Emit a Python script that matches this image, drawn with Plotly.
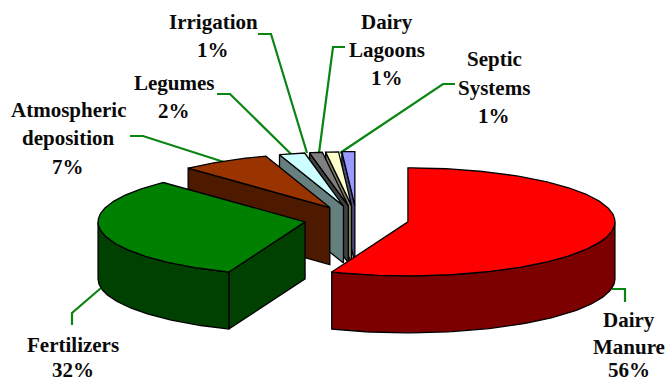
import numpy as np
import plotly.graph_objects as go

# Nitrogen source shares, clockwise from twelve o'clock
categories = ["Dairy Manure", "Fertilizers", "Atmospheric deposition", "Legumes",
              "Irrigation", "Dairy Lagoons", "Septic Systems"]
shares = [56, 32, 7, 2, 1, 1, 1]
top_colors = ["#ff0000", "#008000", "#993300", "#ccffff", "#808080", "#ffffcc", "#9999ff"]
side_colors = ["#7d0000", "#004000", "#4d1a00", "#668080", "#404040", "#808066", "#4d4d80"]

# Projection of the tilted, exploded pie in page pixels
CX, CY = 356.5, 219.3
RX, RY = 207.0, 54.0
DEPTH = 57.0
EXPLODE = 0.253

EDGE = dict(color="#000000", width=1.3)
LEADER = dict(color="#0a8512", width=2.2)

leader_paths = [
    [(258, 34), (271, 34), (307, 153)],
    [(345, 47), (333, 47), (319, 153)],
    [(455, 84), (443, 84), (340, 153)],
    [(217, 94), (230, 94), (292, 155)],
    [(130, 136), (143, 136), (227, 163)],
    [(72, 325), (72, 313), (101, 288)],
    [(625, 302), (625, 289), (612, 289)],
]

# Each label is (centre x, [(text, y), ...])
label_blocks = [
    (213, [("Irrigation", 22), ("1%", 50)]),
    (387, [("Dairy", 22), ("Lagoons", 50), ("1%", 78)]),
    (494, [("Septic", 59), ("Systems", 88), ("1%", 116)]),
    (174, [("Legumes", 83), ("2%", 111)]),
    (68, [("Atmospheric", 110), ("deposition", 138), ("7%", 167)]),
    (73, [("Fertilizers", 345), ("32%", 370)]),
    (629, [("Dairy", 320), ("Manure", 347), ("56%", 370)]),
]


def rim_point(apex, theta, drop=0.0):
    """Screen position of the rim at angle theta (radians, clockwise from top)."""
    return apex[0] + RX * np.sin(theta), apex[1] - RY * np.cos(theta) + drop


def polygon(xs, ys, fill):
    return go.Scatter(x=list(xs) + [xs[0]], y=list(ys) + [ys[0]], mode="lines",
                      fill="toself", fillcolor=fill, line=EDGE,
                      hoverinfo="skip", showlegend=False)


def slice_traces(start, end, top, side):
    mid = (start + end) / 2
    apex = (CX + EXPLODE * RX * np.sin(mid), CY - EXPLODE * RY * np.cos(mid))
    traces = []

    # Cut faces turned towards the viewer
    for theta, visible in ((start, np.sin(start) < -1e-6), (end, np.sin(end) > 1e-6)):
        if visible:
            ox, oy = rim_point(apex, theta)
            traces.append(polygon([apex[0], ox, ox, apex[0]],
                                  [apex[1], oy, oy + DEPTH, apex[1] + DEPTH], side))

    # Outer wall, only along the front half of the ellipse
    lo, hi = max(start, np.pi / 2), min(end, 3 * np.pi / 2)
    if hi > lo:
        t = np.linspace(lo, hi, 80)
        ux, uy = rim_point(apex, t)
        traces.append(polygon(np.r_[ux, ux[::-1]], np.r_[uy, uy[::-1] + DEPTH], side))

    # Top surface
    t = np.linspace(start, end, max(6, int((end - start) * 60)))
    rx_, ry_ = rim_point(apex, t)
    traces.append(polygon(np.r_[apex[0], rx_], np.r_[apex[1], ry_], top))
    return traces


fig = go.Figure()

for path in leader_paths:
    xs, ys = zip(*path)
    fig.add_trace(go.Scatter(x=xs, y=ys, mode="lines", line=LEADER,
                             hoverinfo="skip", showlegend=False))

bounds = np.r_[0, np.cumsum(shares)] / sum(shares) * 2 * np.pi

# Painted from the back slices round to the front ones
for i in [6, 5, 4, 3, 2, 1, 0]:
    for trace in slice_traces(bounds[i], bounds[i + 1], top_colors[i], side_colors[i]):
        fig.add_trace(trace)

annotations = []
for cx, lines in label_blocks:
    for text, y in lines:
        annotations.append(dict(x=cx, y=y, text=f"<b>{text}</b>", showarrow=False,
                                xanchor="center", yanchor="middle",
                                font=dict(family="Liberation Serif", size=21, color="#0a0a0a")))

fig.update_layout(
    width=665, height=385,
    margin=dict(l=0, r=0, t=0, b=0),
    paper_bgcolor="#ffffff", plot_bgcolor="#ffffff",
    xaxis=dict(range=[0, 665], visible=False, fixedrange=True),
    yaxis=dict(range=[385, 0], visible=False, fixedrange=True),
    annotations=annotations,
)

fig.write_html("out.html", config={"displayModeBar": False})
